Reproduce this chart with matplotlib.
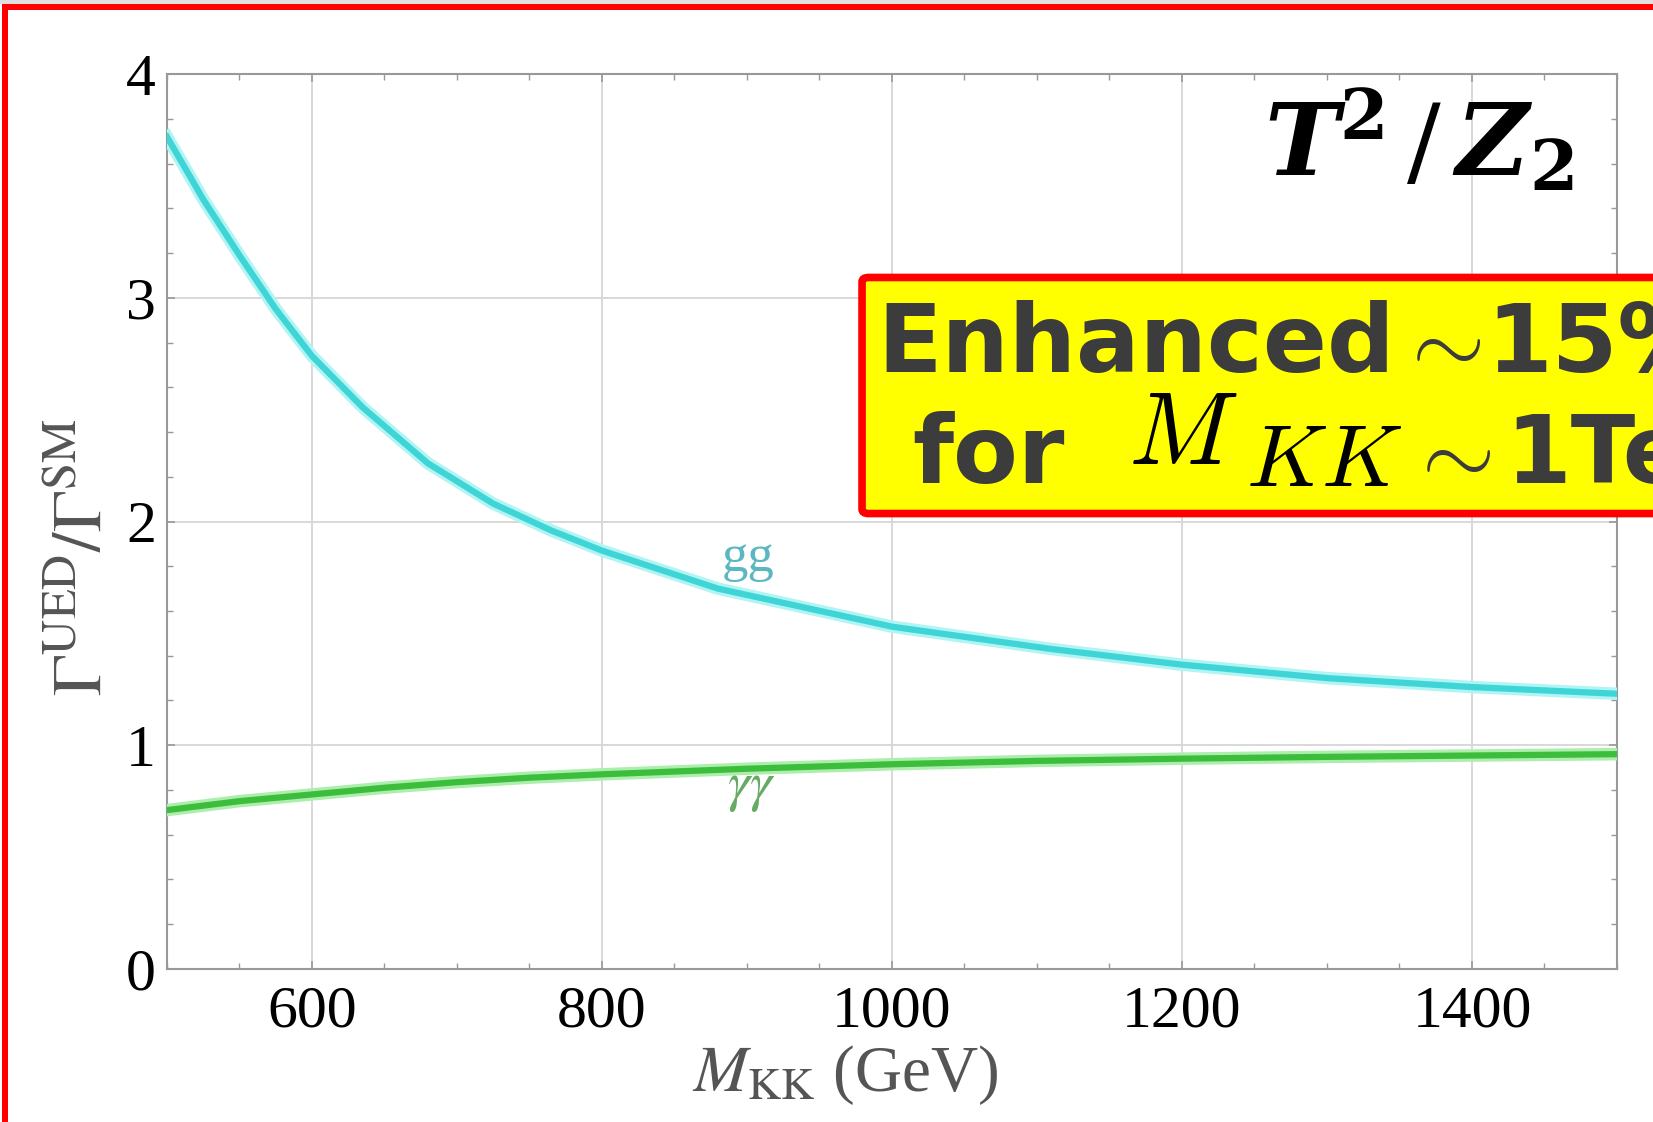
import numpy as np
import matplotlib.pyplot as plt
from matplotlib.patches import FancyBboxPatch, Rectangle
from matplotlib.ticker import MultipleLocator

# Valores
m_gg = [500, 525, 550, 575, 600, 635, 680, 725, 765, 800, 880, 1000, 1110, 1200, 1300, 1400, 1500]
gg = [3.72, 3.44, 3.19, 2.95, 2.74, 2.51, 2.26, 2.08, 1.96, 1.87, 1.70, 1.53, 1.43, 1.36, 1.30, 1.26, 1.23]
m_aa = [500, 550, 600, 650, 700, 750, 800, 900, 1000, 1100, 1200, 1300, 1400, 1500]
aa = [0.71, 0.75, 0.78, 0.81, 0.835, 0.855, 0.87, 0.895, 0.915, 0.93, 0.94, 0.948, 0.954, 0.96]
xticks = [600, 800, 1000, 1200, 1400]
yticks = [0, 1, 2, 3, 4]

serif = 'Liberation Serif'
W, H = 1653, 1122

fig = plt.figure(figsize=(16.53, 11.22), dpi=100)
ax = fig.add_axes([0.101, 0.1364, 0.8772, 0.7976])

# curvas con halo
ax.plot(m_gg, gg, color='#b0f4f4', lw=9, solid_joinstyle='round', zorder=3)
ax.plot(m_gg, gg, color='#3fd4d6', lw=4.5, solid_joinstyle='round', zorder=4)
ax.plot(m_aa, aa, color='#adeead', lw=9, solid_joinstyle='round', zorder=3)
ax.plot(m_aa, aa, color='#3cbe3c', lw=4.5, solid_joinstyle='round', zorder=4)

ax.text(901, 1.78, 'gg', color='#5cb8c0', fontsize=38, family=serif, ha='center', va='baseline')
ax.text(903, 0.755, r'$\gamma\gamma$', color='#66aa66', fontsize=40, math_fontfamily='stix',
        ha='center', va='baseline')

ax.set_xlim(500, 1500)
ax.set_ylim(0, 4)
ax.set_xticks(xticks)
ax.set_yticks(yticks)
ax.xaxis.set_minor_locator(MultipleLocator(50))
ax.yaxis.set_minor_locator(MultipleLocator(0.2))
ax.grid(True, which='major', color='#d6d6d6', lw=1.3, zorder=0)
for s in ax.spines.values():
    s.set_color('#999999')
    s.set_linewidth(1.5)
ax.tick_params(which='both', direction='in', top=True, right=True, colors='#999999',
               labelcolor='black')
ax.tick_params(which='major', length=6, width=1.2)
ax.tick_params(which='minor', length=4, width=1)
ax.tick_params(axis='x', pad=12)
ax.tick_params(axis='y', pad=8)
for lab in ax.get_xticklabels() + ax.get_yticklabels():
    lab.set_family(serif)
    lab.set_fontsize(43)

ax.set_xlabel(r'$M_{\rm KK}$ (GeV)', fontsize=47, family=serif, color='#555555',
              math_fontfamily='stix')
ax.xaxis.set_label_coords(0.468, -0.083)
ax.set_ylabel(r'$\Gamma^{\rm UED}/\Gamma^{\rm SM}$', fontsize=50, color='#555555',
              math_fontfamily='stix')
ax.yaxis.set_label_coords(-0.036, 0.46)

# titulo
fig.text(0.952, 0.920, r'$\mathbfit{T}^{\mathbf{2}}\,/\,\mathbfit{Z}_{\mathbf{2}}$', fontsize=72,
         math_fontfamily='dejavuserif', ha='right', va='top')

# recuadro amarillo
box = FancyBboxPatch((0.5215, 0.5423), 0.6, 0.2104, boxstyle='round,pad=0,rounding_size=0.004',
                     transform=fig.transFigure, facecolor='#ffff00', edgecolor='#ff0000',
                     lw=5.5, zorder=10)
fig.add_artist(box)
gray = '#3c3c3c'
kw = dict(fontsize=68, fontweight='bold', color=gray, va='baseline', zorder=11)
fig.text(877 / W, 1 - 372 / H, 'Enhanced', **kw)
fig.text(1395 / W, 1 - 372 / H, r'$\sim$', math_fontfamily='cm', **kw)
fig.text(1486 / W, 1 - 372 / H, '15%', **kw)
fig.text(912 / W, 1 - 483 / H, 'for', **kw)
fig.text(1128 / W, 1 - 464 / H, r'$M$', fontsize=74, color='black',
         math_fontfamily='cm', va='baseline', zorder=11)
fig.text(1246 / W, 1 - 486 / H, r'$KK$', fontsize=64, color='black',
         math_fontfamily='cm', va='baseline', zorder=11)
fig.text(1405 / W, 1 - 483 / H, r'$\sim$', math_fontfamily='cm', **kw)
fig.text(1505 / W, 1 - 483 / H, '1TeV', **kw)

# marco rojo
fig.add_artist(Rectangle((0, 1 - 4 / H), 1, 4 / H, transform=fig.transFigure,
                         facecolor='#e0e0e0', edgecolor='none', zorder=12))
fig.add_artist(Rectangle((0.0015, 1 - 10 / H), 1, 6 / H, transform=fig.transFigure,
                         facecolor='#ff0000', edgecolor='none', zorder=12))
fig.add_artist(Rectangle((0.0015, 0), 6 / W, 1 - 4 / H, transform=fig.transFigure,
                         facecolor='#ff0000', edgecolor='none', zorder=12))

fig.savefig('out.png', dpi=100)
